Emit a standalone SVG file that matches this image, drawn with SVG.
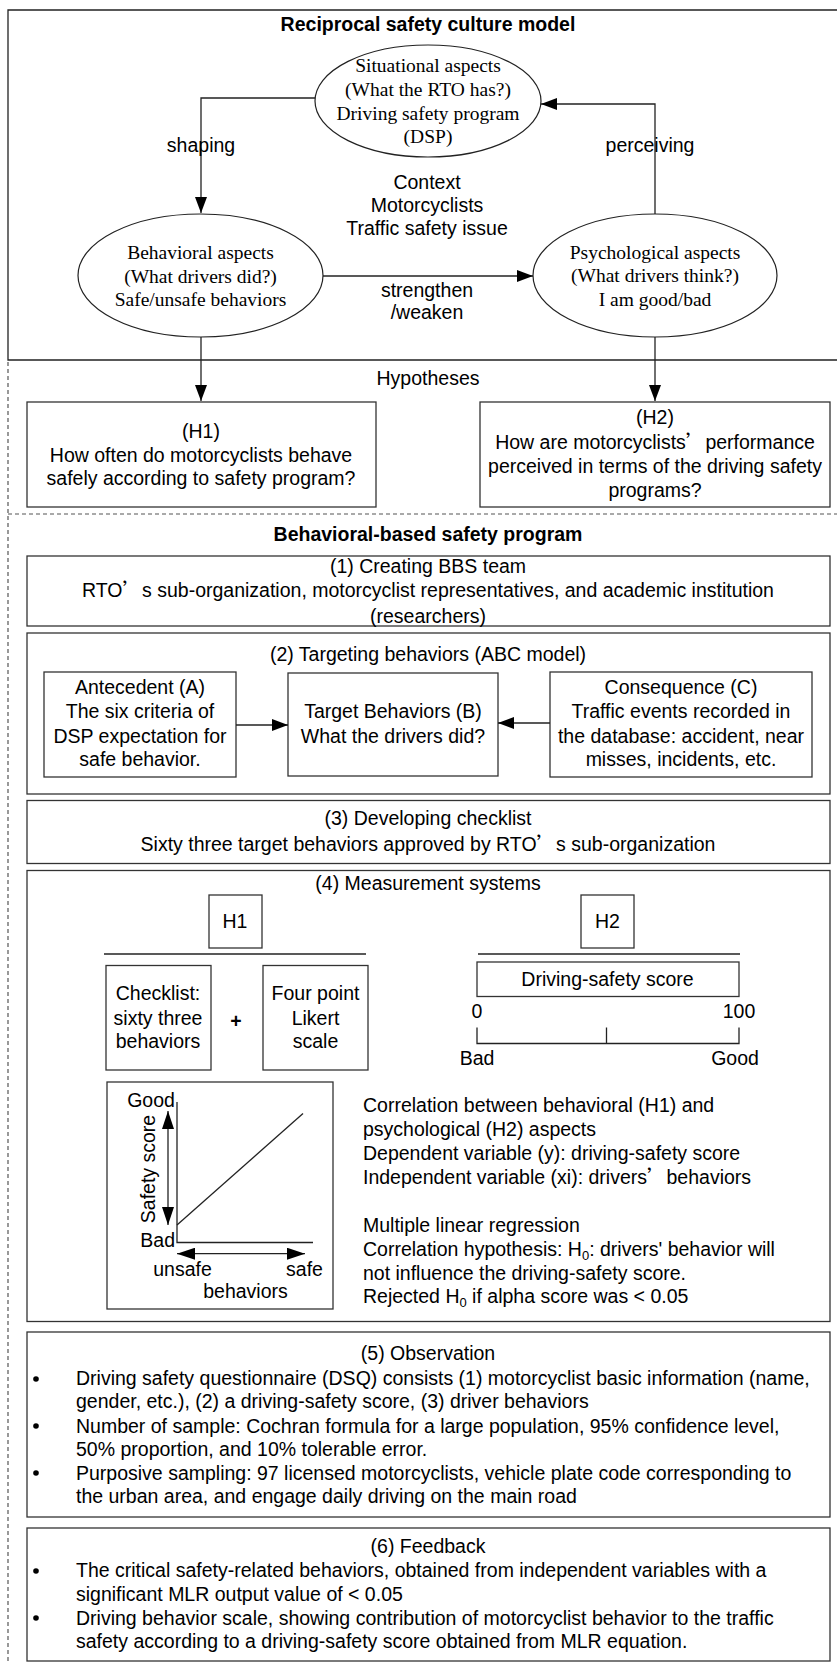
<svg xmlns="http://www.w3.org/2000/svg" width="837" height="1664" viewBox="0 0 837 1664">
<style>
.s{font-family:"Liberation Sans",Arial,sans-serif;font-size:19.5px;fill:#000}
.m{text-anchor:middle}
.b{font-weight:bold}
.t{font-family:"Liberation Serif","Times New Roman",serif;font-size:19.5px;fill:#000;text-anchor:middle}
.box{fill:#fff;stroke:#333;stroke-width:1.3}
.el{fill:#fff;stroke:#222;stroke-width:1.2}
.ln{fill:none;stroke:#222;stroke-width:1.3}
.dash{fill:none;stroke:#555;stroke-width:1.2;stroke-dasharray:4 3}
.q{font-family:"Noto Sans CJK SC",sans-serif}
</style>
<defs>
<marker id="arr" viewBox="0 0 16 12" refX="16" refY="6" markerWidth="16" markerHeight="12" markerUnits="userSpaceOnUse" orient="auto">
<path d="M0,0 L16,6 L0,12 Z" fill="#000"/>
</marker>
<marker id="arr2" viewBox="0 0 18 12" refX="18" refY="6" markerWidth="18" markerHeight="12" markerUnits="userSpaceOnUse" orient="auto-start-reverse">
<path d="M0,0 L18,6 L0,12 Z" fill="#000"/>
</marker>
</defs>
<rect width="837" height="1664" fill="#fff"/>

<g id="frame">
<path class="ln" d="M840,10 H8 V360 H840"/>
<path class="dash" d="M8,362 V1664"/>
<path class="dash" d="M8,514 H837"/>
</g>

<text class="s m b" x="428" y="31">Reciprocal safety culture model</text>

<g id="situational">
<ellipse class="el" cx="428" cy="101" rx="113" ry="56"/>
<text class="t" x="428" y="72">Situational aspects</text>
<text class="t" x="428" y="96">(What the RTO has?)</text>
<text class="t" x="428" y="120">Driving safety program</text>
<text class="t" x="428" y="143">(DSP)</text>
</g>

<g id="behavioral">
<ellipse class="el" cx="200.5" cy="275.5" rx="122.5" ry="61.5"/>
<text class="t" x="200.5" y="259">Behavioral aspects</text>
<text class="t" x="200.5" y="283">(What drivers did?)</text>
<text class="t" x="200.5" y="306">Safe/unsafe behaviors</text>
</g>

<g id="psychological">
<ellipse class="el" cx="655" cy="275.5" rx="122" ry="61.5"/>
<text class="t" x="655" y="259">Psychological aspects</text>
<text class="t" x="655" y="282">(What drivers think?)</text>
<text class="t" x="655" y="306">I am good/bad</text>
</g>

<g id="context">
<text class="s m" x="427" y="189">Context</text>
<text class="s m" x="427" y="212">Motorcyclists</text>
<text class="s m" x="427" y="235">Traffic safety issue</text>
</g>

<text class="s m" x="428" y="385">Hypotheses</text>

<g id="h1">
<rect class="box" x="27" y="402" width="349" height="105"/>
<text class="s m" x="201" y="438">(H1)</text>
<text class="s m" x="201" y="461.5">How often do motorcyclists behave</text>
<text class="s m" x="201" y="485">safely according to safety program?</text>
</g>

<g id="h2">
<rect class="box" x="480" y="402" width="350" height="105"/>
<text class="s m" x="655" y="424">(H2)</text>
<text class="s m" x="655" y="449">How are motorcyclists<tspan class="q">’</tspan>performance</text>
<text class="s m" x="655" y="473">perceived in terms of the driving safety</text>
<text class="s m" x="655" y="496.5">programs?</text>
</g>

<text class="s m b" x="428" y="541">Behavioral-based safety program</text>

<g id="step1">
<rect class="box" x="27" y="556" width="803" height="70"/>
<text class="s m" x="428" y="572.5">(1) Creating BBS team</text>
<text class="s m" x="428" y="597">RTO<tspan class="q">’</tspan>s sub-organization, motorcyclist representatives, and academic institution</text>
<text class="s m" x="428" y="622.5">(researchers)</text>
</g>

<g id="step2">
<rect class="box" x="27" y="633" width="803" height="161"/>
<text class="s m" x="428" y="660.5">(2) Targeting behaviors (ABC model)</text>
</g>

<g id="antecedent">
<rect class="box" x="44" y="672" width="192" height="105"/>
<text class="s m" x="140" y="694">Antecedent (A)</text>
<text class="s m" x="140" y="718">The six criteria of</text>
<text class="s m" x="140" y="742.5">DSP expectation for</text>
<text class="s m" x="140" y="766">safe behavior.</text>
</g>

<g id="target">
<rect class="box" x="288" y="673" width="210" height="103"/>
<text class="s m" x="393" y="718">Target Behaviors (B)</text>
<text class="s m" x="393" y="742.5">What the drivers did?</text>
</g>

<g id="consequence">
<rect class="box" x="550" y="672" width="262" height="105"/>
<text class="s m" x="681" y="694">Consequence (C)</text>
<text class="s m" x="681" y="718">Traffic events recorded in</text>
<text class="s m" x="681" y="742.5">the database: accident, near</text>
<text class="s m" x="681" y="766">misses, incidents, etc.</text>
</g>

<g id="step3">
<rect class="box" x="27" y="800.5" width="803" height="63"/>
<text class="s m" x="428" y="824.5">(3) Developing checklist</text>
<text class="s m" x="428" y="851">Sixty three target behaviors approved by RTO<tspan class="q">’</tspan>s sub-organization</text>
</g>

<g id="step4">
<rect class="box" x="27" y="870.5" width="803" height="451"/>
<text class="s m" x="428" y="889.5">(4) Measurement systems</text>
</g>

<g id="h1-measure">
<rect class="box" x="209" y="895" width="53" height="53"/>
<text class="s m" x="235" y="928">H1</text>
<path class="ln" d="M104,954 H366" stroke="#555"/>
<rect class="box" x="106" y="965.5" width="105" height="104.5"/>
<text class="s m" x="158" y="1000">Checklist:</text>
<text class="s m" x="158" y="1024.5">sixty three</text>
<text class="s m" x="158" y="1047.5">behaviors</text>
<text class="s m b" x="236" y="1028" font-size="24">+</text>
<rect class="box" x="263" y="965.5" width="105" height="104.5"/>
<text class="s m" x="315.5" y="1000">Four point</text>
<text class="s m" x="315.5" y="1024.5">Likert</text>
<text class="s m" x="315.5" y="1047.5">scale</text>
</g>

<g id="h2-measure">
<rect class="box" x="581" y="895" width="53" height="53"/>
<text class="s m" x="607.5" y="928">H2</text>
<path class="ln" d="M478,954 H740" stroke="#555"/>
<rect class="box" x="477" y="962" width="262" height="34.5"/>
<text class="s m" x="607.5" y="985.5">Driving-safety score</text>
<text class="s m" x="477" y="1017.5">0</text>
<text class="s m" x="739" y="1017.5">100</text>
<path class="ln" d="M477,1027.5 V1043.5 H739 V1027.5 M606.5,1027.5 V1043.5"/>
<text class="s m" x="477" y="1065">Bad</text>
<text class="s m" x="735" y="1065">Good</text>
</g>

<g id="graph">
<rect class="box" x="107" y="1082" width="226" height="227"/>
<path class="ln" d="M177,1102 V1242.5 H313"/>
<path class="ln" d="M177,1225 L303,1113.5"/>
<path class="ln" d="M168,1111 V1225" marker-start="url(#arr2)" marker-end="url(#arr2)" stroke="#000"/>
<path class="ln" d="M177,1253.7 H305" marker-start="url(#arr2)" marker-end="url(#arr2)" stroke="#000"/>
<text class="s m" x="151" y="1107">Good</text>
<text class="s" x="175" y="1246.5" text-anchor="end">Bad</text>
<text class="s m" transform="translate(155,1169) rotate(-90)">Safety score</text>
<text class="s m" x="182.5" y="1275.5">unsafe</text>
<text class="s m" x="304.5" y="1275.5">safe</text>
<text class="s m" x="245.5" y="1297.5">behaviors</text>
</g>

<g id="regression">
<text class="s" x="363" y="1112">Correlation between behavioral (H1) and</text>
<text class="s" x="363" y="1136">psychological (H2) aspects</text>
<text class="s" x="363" y="1159.5">Dependent variable (y): driving-safety score</text>
<text class="s" x="363" y="1184">Independent variable (xi): drivers<tspan class="q">’</tspan>behaviors</text>
<text class="s" x="363" y="1232">Multiple linear regression</text>
<text class="s" x="363" y="1256">Correlation hypothesis: H<tspan font-size="13" dy="4">0</tspan><tspan dy="-4">: drivers' behavior will</tspan></text>
<text class="s" x="363" y="1280">not influence the driving-safety score.</text>
<text class="s" x="363" y="1303">Rejected H<tspan font-size="13" dy="4">0</tspan><tspan dy="-4"> if alpha score was &lt; 0.05</tspan></text>
</g>

<g id="step5">
<rect class="box" x="27" y="1332" width="803" height="185" stroke="#111"/>
<text class="s m" x="428" y="1360">(5) Observation</text>
<g fill="#000"><circle cx="36" cy="1379" r="2.8"/><circle cx="36" cy="1426" r="2.8"/><circle cx="36" cy="1473" r="2.8"/></g>
<text class="s" x="76" y="1385">Driving safety questionnaire (DSQ) consists (1) motorcyclist basic information (name,</text>
<text class="s" x="76" y="1408">gender, etc.), (2) a driving-safety score, (3) driver behaviors</text>
<text class="s" x="76" y="1432.5">Number of sample: Cochran formula for a large population, 95% confidence level,</text>
<text class="s" x="76" y="1456">50% proportion, and 10% tolerable error.</text>
<text class="s" x="76" y="1480">Purposive sampling: 97 licensed motorcyclists, vehicle plate code corresponding to</text>
<text class="s" x="76" y="1503">the urban area, and engage daily driving on the main road</text>
</g>

<g id="step6">
<rect class="box" x="27" y="1528" width="803" height="133"/>
<text class="s m" x="428" y="1553">(6) Feedback</text>
<g fill="#000"><circle cx="36" cy="1571" r="2.8"/><circle cx="36" cy="1618" r="2.8"/></g>
<text class="s" x="76" y="1577">The critical safety-related behaviors, obtained from independent variables with a</text>
<text class="s" x="76" y="1600.5">significant MLR output value of &lt; 0.05</text>
<text class="s" x="76" y="1625">Driving behavior scale, showing contribution of motorcyclist behavior to the traffic</text>
<text class="s" x="76" y="1648">safety according to a driving-safety score obtained from MLR equation.</text>
</g>

<g id="connectors">
<path class="ln" d="M315,98 H201 V213" marker-end="url(#arr)"/>
<path class="ln" d="M655,214 V104 H541" marker-end="url(#arr)"/>
<path class="ln" d="M323,276 H533" marker-end="url(#arr)"/>
<path class="ln" d="M201,337 V401" marker-end="url(#arr)"/>
<path class="ln" d="M655,337 V401" marker-end="url(#arr)"/>
<path class="ln" d="M236,725 H288" marker-end="url(#arr)"/>
<path class="ln" d="M550,723 H498" marker-end="url(#arr)"/>
<text class="s m" x="201" y="152">shaping</text>
<text class="s m" x="650" y="152">perceiving</text>
<text class="s m" x="427" y="297">strengthen</text>
<text class="s m" x="427" y="319">/weaken</text>
</g>
</svg>
